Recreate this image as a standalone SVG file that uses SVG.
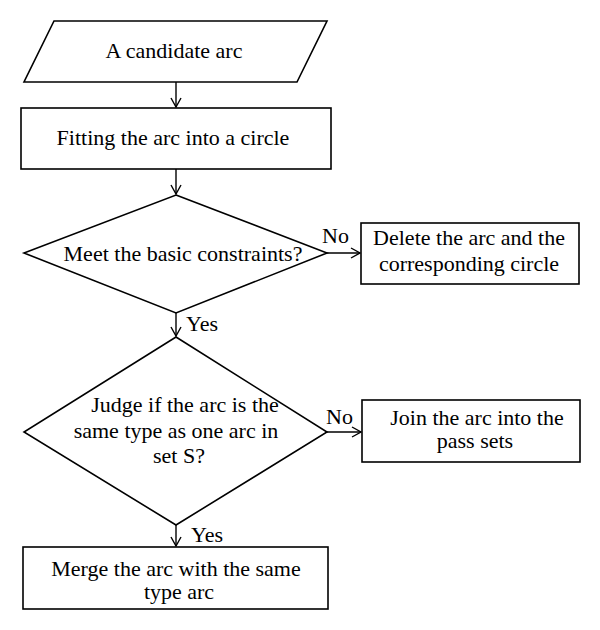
<svg xmlns="http://www.w3.org/2000/svg" width="600" height="630" viewBox="0 0 600 630">
<style>
.s{fill:#fff;stroke:#000;stroke-width:1.6}
.c{stroke:#000;stroke-width:1.4;fill:none;marker-end:url(#a)}
text{font-family:"Liberation Serif","Times New Roman",serif;font-size:22px;fill:#000}
.m{text-anchor:middle}
</style>
<defs>
<marker id="a" viewBox="0 0 12 12" refX="11" refY="6" markerWidth="12" markerHeight="12" markerUnits="userSpaceOnUse" orient="auto">
<polyline points="2,1 11,6 2,11" fill="none" stroke="#000" stroke-width="1.4"/>
</marker>
</defs>
<rect width="600" height="630" fill="#fff"/>
<g id="connectors">
<line class="c" x1="176" y1="82" x2="176" y2="107"/>
<line class="c" x1="176" y1="169" x2="176" y2="194"/>
<line class="c" x1="327" y1="253" x2="360" y2="253"/>
<line class="c" x1="176" y1="313" x2="176" y2="336"/>
<line class="c" x1="327" y1="432" x2="361" y2="432"/>
<line class="c" x1="176" y1="525" x2="176" y2="546"/>
<text x="322" y="243">No</text>
<text x="186" y="331">Yes</text>
<text x="326" y="424">No</text>
<text x="191" y="542">Yes</text>
</g>
<g id="start">
<polygon class="s" points="54,21 327,21 297,82 24,82"/>
<text class="m" x="174" y="58">A candidate arc</text>
</g>
<g id="fit">
<rect class="s" x="21" y="108" width="310" height="61"/>
<text class="m" x="173" y="145">Fitting the arc into a circle</text>
</g>
<g id="check">
<polygon class="s" points="176,195 327,253 176,313 24,253"/>
<text class="m" x="183" y="261">Meet the basic constraints?</text>
</g>
<g id="delete">
<rect class="s" x="361" y="223" width="218" height="61"/>
<text class="m" x="469" y="245">Delete the arc and the</text>
<text class="m" x="469" y="271">corresponding circle</text>
</g>
<g id="judge">
<polygon class="s" points="176,337 327,432 176,525 24,432"/>
<text class="m" x="185" y="412">Judge if the arc is the</text>
<text class="m" x="176" y="438">same type as one arc in</text>
<text class="m" x="179" y="463">set S?</text>
</g>
<g id="join">
<rect class="s" x="362" y="400" width="218" height="62"/>
<text class="m" x="477" y="425">Join the arc into the</text>
<text class="m" x="475" y="448">pass sets</text>
</g>
<g id="merge">
<rect class="s" x="23" y="547" width="305" height="62"/>
<text class="m" x="176" y="576">Merge the arc with the same</text>
<text class="m" x="179" y="599">type arc</text>
</g>
</svg>
